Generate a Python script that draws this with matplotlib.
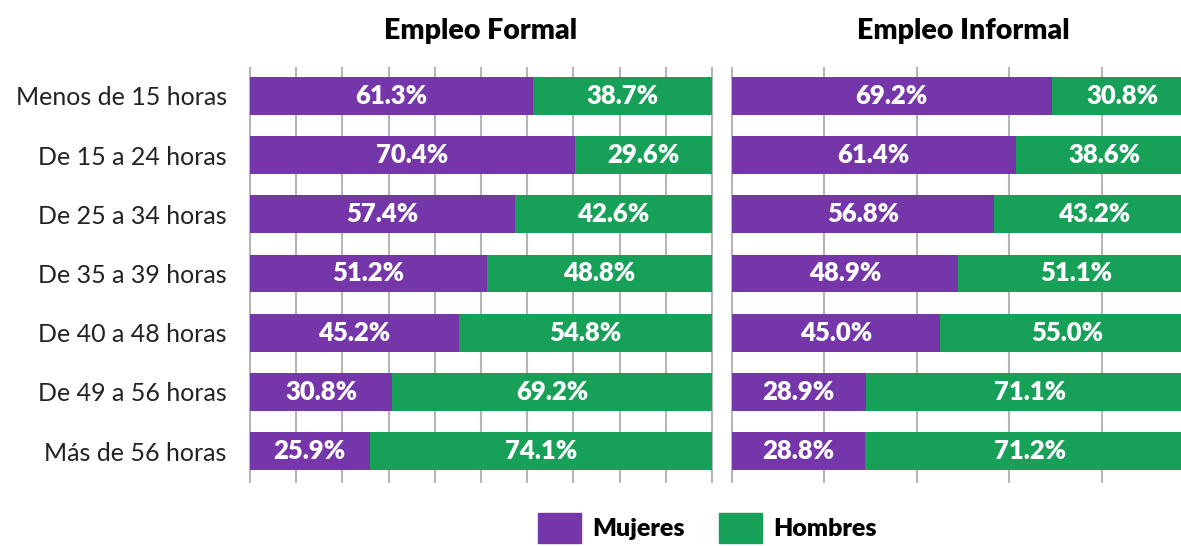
import numpy as np
from matplotlib import pyplot as plt
from matplotlib.patches import Patch

# Categories (top to bottom) and the share of each sex, in percent
categorias = ['Menos de 15 horas', 'De 15 a 24 horas', 'De 25 a 34 horas',
              'De 35 a 39 horas', 'De 40 a 48 horas', 'De 49 a 56 horas',
              'Más de 56 horas']
formal_mujeres = [61.3, 70.4, 57.4, 51.2, 45.2, 30.8, 25.9]
formal_hombres = [38.7, 29.6, 42.6, 48.8, 54.8, 69.2, 74.1]
informal_mujeres = [69.2, 61.4, 56.8, 48.9, 45.0, 28.9, 28.8]
informal_hombres = [30.8, 38.6, 43.2, 51.1, 55.0, 71.1, 71.2]

purple = '#7536A9'
green = '#16A058'
plt.rcParams['font.family'] = ['Lato', 'DejaVu Sans']

fig = plt.figure(figsize=[11.81, 5.46], dpi=100)
ax1 = fig.add_axes([0.2108, 0.1154, 0.3929, 0.762])
ax2 = fig.add_axes([0.619, 0.1154, 0.3929, 0.762])


def draw_panel(ax, mujeres, hombres, title, step):
    y = np.arange(len(categorias))
    muj = np.array(mujeres)
    hom = np.array(hombres)
    ax.barh(y, muj, height=0.64, color=purple, zorder=2)
    ax.barh(y, hom, left=muj, height=0.64, color=green, zorder=2)
    # Labels centred on each segment
    for i in range(len(y)):
        ax.text(muj[i]/2, y[i], f'{muj[i]:.1f}%', ha='center', va='center',
                color='white', fontsize=18.5, fontweight='heavy', zorder=3)
        ax.text(muj[i] + hom[i]/2, y[i], f'{hom[i]:.1f}%', ha='center', va='center',
                color='white', fontsize=18.5, fontweight='heavy', zorder=3)
    ax.set_xlim(-0.2, 100.2)
    ax.set_ylim(6.54, -0.49)
    ax.set_xticks(np.arange(0, 101, step))
    ax.grid(axis='x', color='#b5b5b5', linewidth=1.5, zorder=0)
    ax.tick_params(axis='x', length=0, labelbottom=False)
    ax.tick_params(axis='y', length=0)
    for s in ax.spines.values():
        s.set_visible(False)
    ax.set_title(title, fontsize=20.5, fontweight='heavy', pad=20)
    return y


y = draw_panel(ax1, formal_mujeres, formal_hombres, 'Empleo Formal', 10)
ax1.set_yticks(y)
ax1.set_yticklabels(categorias, fontsize=18, color='#222222')
ax1.tick_params(axis='y', pad=16)
draw_panel(ax2, informal_mujeres, informal_hombres, 'Empleo Informal', 20)
ax2.set_yticks([])

handles = [Patch(color=purple, label='Mujeres'), Patch(color=green, label='Hombres')]
leg = fig.legend(handles=handles, loc='center', bbox_to_anchor=(0.599, 0.033), ncol=2,
                 frameon=False, handlelength=1.7, handleheight=1.5, handletextpad=0.45,
                 columnspacing=1.4, borderpad=0.2, prop={'weight': 'heavy', 'size': 18})

fig.savefig('out.png', dpi=100)
